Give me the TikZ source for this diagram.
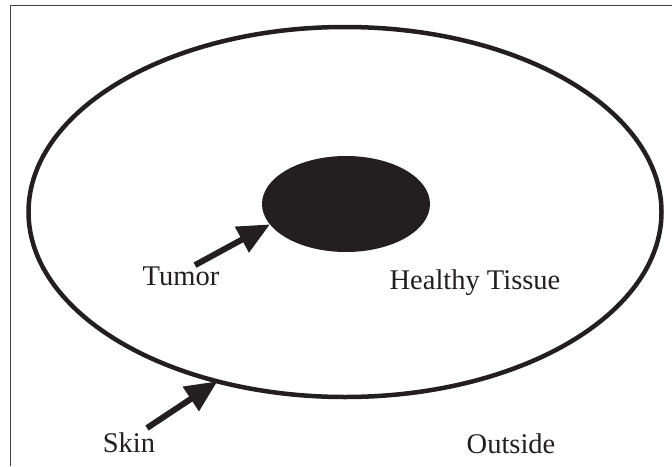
\documentclass[tikz,border=0pt]{standalone}
\usepackage{fontspec}
\setmainfont{Liberation Serif}
\usetikzlibrary{arrows.meta,shapes.geometric}
\definecolor{ink}{RGB}{35,31,32}
\begin{document}
\begin{tikzpicture}[x=1pt,y=-1pt,
    region/.style={draw=ink, line width=4.5pt, ellipse, inner sep=0pt, outer sep=0pt},
    tissuetext/.style={text=ink, font=\fontsize{28.5}{34}\selectfont, inner sep=0pt, anchor=base},
    pointer/.style={draw=ink, line width=6pt, -{Triangle[length=32pt,width=28pt]}}]
    \useasboundingbox (0,0) rectangle (672,466);

    % Frame
    \draw[ink!85, line width=1.5pt] (10.7,466) -- (10.7,5.5) -- (672,5.5);

    % Body outline (skin)
    \node[region, minimum width=633pt, minimum height=370pt] (skin) at (345,212) {};

    % Tumor
    \node[ellipse, fill=ink, inner sep=0pt, outer sep=0pt,
          minimum width=168pt, minimum height=96pt] (tumor) at (346,204) {};

    % Labels
    \node[tissuetext] (tumorlab) at (181,285) {Tumor};
    \node[tissuetext] (healthylab) at (475,289) {Healthy Tissue};
    \node[tissuetext] (skinlab) at (129,452) {Skin};
    \node[tissuetext] (outsidelab) at (511,453) {Outside};

    % Pointers
    \draw[pointer] ([xshift=14pt,yshift=1pt]tumorlab.north) -- (tumor.195);
    \draw[pointer] ([xshift=18pt,yshift=4pt]skinlab.north) -- (skin.233);
\end{tikzpicture}
\end{document}
